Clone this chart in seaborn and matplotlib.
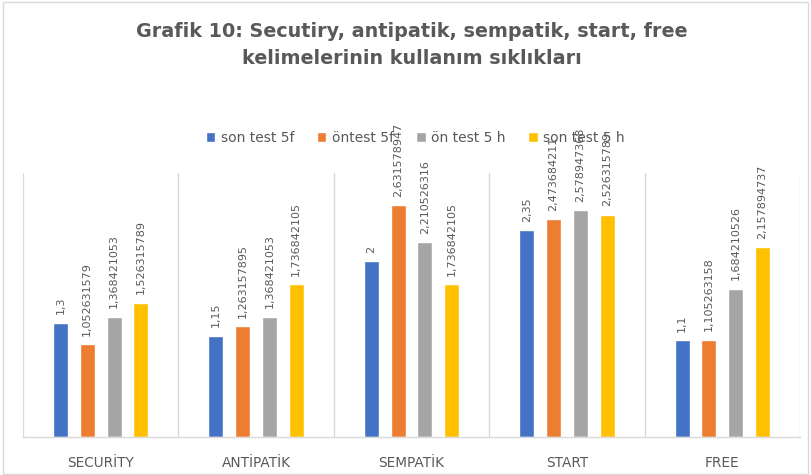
import matplotlib
matplotlib.use("Agg")
import matplotlib.pyplot as plt
from matplotlib.patches import Rectangle, Patch
import seaborn as sns
import pandas as pd

categories = ["SECURİTY", "ANTİPATİK", "SEMPATİK", "START", "FREE"]
series_names = ["son test 5f", "öntest 5f", "ön test 5 h", "son test 5 h"]
son_test_5f = [1.3, 1.15, 2, 2.35, 1.1]
ontest_5f = [1.052631579, 1.263157895, 2.631578947, 2.473684211, 1.105263158]
on_test_5h = [1.368421053, 1.368421053, 2.210526316, 2.578947368, 1.684210526]
son_test_5h = [1.526315789, 1.736842105, 1.736842105, 2.526315789, 2.157894737]
colors = ["#4472C4", "#ED7D31", "#A5A5A5", "#FFC000"]
title = "Grafik 10: Secutiry, antipatik, sempatik, start, free\nkelimelerinin kullanım sıklıkları"

series_values = [son_test_5f, ontest_5f, on_test_5h, son_test_5h]
rows = []
for name, vals in zip(series_names, series_values):
    for cat, v in zip(categories, vals):
        rows.append({"kategori": cat, "seri": name, "deger": v})
df = pd.DataFrame(rows)

sns.set_theme(style="white")
plt.rcParams["font.family"] = ["DejaVu Sans"]
text_color = "#595959"

fig = plt.figure(figsize=(8.11, 4.75), dpi=100)
ax = fig.add_axes([23 / 811, 38 / 475, 777 / 811, 264 / 475])

sns.barplot(data=df, x="kategori", y="deger", hue="seri",
            order=categories, hue_order=series_names, palette=colors,
            width=0.69, gap=0.44, saturation=1, ax=ax, legend=False)

ax.set_ylim(0, 3)
ax.set_xlim(-0.5, len(categories) - 0.5)
ax.set_xlabel("")
ax.set_ylabel("")
ax.set_yticks([])
for s in ["top", "right", "left"]:
    ax.spines[s].set_visible(False)
ax.spines["bottom"].set_color("#d9d9d9")
ax.spines["bottom"].set_linewidth(1)

# category separators
for xb in [i - 0.5 for i in range(len(categories) + 1)]:
    ax.axvline(xb, color="#d9d9d9", lw=1, zorder=0)

ax.tick_params(axis="x", length=0, pad=14)
ax.set_xticks(range(len(categories)))
ax.set_xticklabels(categories, fontsize=9.8, color=text_color)

def fmt(v):
    return f"{v:.10g}".replace(".", ",")

for cont, vals in zip(ax.containers, series_values):
    ax.bar_label(cont, labels=[fmt(v) for v in vals], rotation=90,
                 padding=6, fontsize=8, color=text_color)

fig.text(0.508, 0.905, title, ha="center", va="center", fontsize=13.8,
         fontweight="bold", color=text_color, linespacing=1.5)

handles = [Patch(facecolor=c, label=n) for c, n in zip(colors, series_names)]
fig.legend(handles=handles, loc="center", bbox_to_anchor=(0.512, 0.71),
           ncol=4, frameon=False, fontsize=10, labelcolor=text_color,
           handlelength=0.7, handleheight=0.7, handletextpad=0.4,
           columnspacing=1.6)

fig.patches.append(Rectangle((3 / 811, 1 / 475), 805 / 811, 472 / 475,
                             transform=fig.transFigure, fill=False,
                             edgecolor="#d9d9d9", lw=1))

fig.savefig("out.png", dpi=100)
